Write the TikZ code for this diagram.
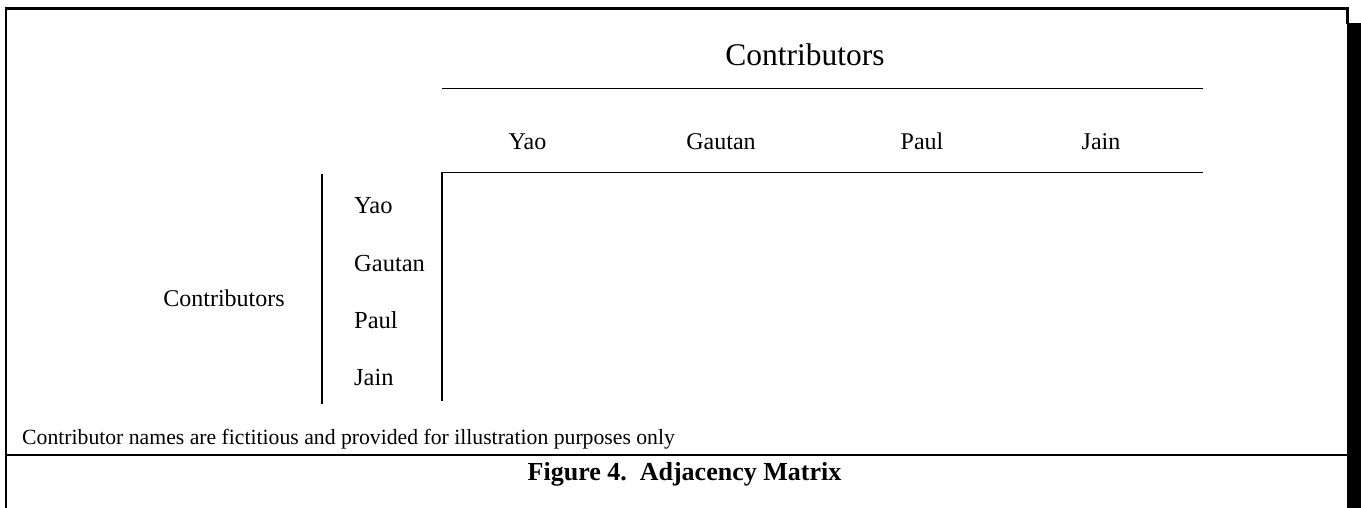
\documentclass[tikz,border=0pt]{standalone}
\usepackage{fontspec}
\setmainfont{Liberation Serif}
\begin{document}
\begin{tikzpicture}[x=1pt,y=-1pt,
  frame/.style={line width=2.5pt,line cap=rect},
  rule/.style={line width=1.9pt},
  big/.style={font=\fontsize{31.5}{32}\selectfont,inner sep=0pt,anchor=base},
  head/.style={font=\fontsize{24}{24}\selectfont,inner sep=0pt,anchor=base},
  rowlab/.style={font=\fontsize{24.5}{24}\selectfont,inner sep=0pt,anchor=base west},
  note/.style={font=\fontsize{21.7}{22}\selectfont,inner sep=0pt,anchor=base west},
  captext/.style={font=\fontsize{26}{26}\selectfont\bfseries,inner sep=0pt,anchor=base}]
\useasboundingbox (0,0) rectangle (1361,508);
% frame
\coordinate (fbl) at (6,508);
\coordinate (ftl) at (6,8.5);
\coordinate (ftr) at (1347.5,8.5);
\coordinate (frs) at (1347.5,23);
\draw[frame] (fbl) -- (ftl) -- (ftr) -- (frs);
\fill (1346.5,23) rectangle (1361,508);
\coordinate (bl) at (6,455);
\coordinate (br) at (1347,455);
\draw[frame,line cap=butt] (bl) -- (br);
% titles
\node[big] (ctop) at (805,66) {Contributors};
\node[head] (cleft) at (224,306) {Contributors};
% column headers
\node[head] (c1) at (527.5,149.5) {Yao};
\node[head] (c2) at (721,149.5) {Gautan};
\node[head] (c3) at (922,149.5) {Paul};
\node[head] (c4) at (1101,149.5) {Jain};
% row labels
\node[rowlab] (r1) at (354,213.5) {Yao};
\node[rowlab] (r2) at (354,271.5) {Gautan};
\node[rowlab] (r3) at (354,328.5) {Paul};
\node[rowlab] (r4) at (354,385.5) {Jain};
% rules
\coordinate (t1) at (442,88.5);
\coordinate (t2) at (1203,88.5);
\draw[rule] (t1) -- (t2);
\coordinate (m0) at (442,401);
\coordinate (m1) at (442,172.5);
\coordinate (m2) at (1203,172.5);
\draw[rule] (m0) -- (m1) -- (m2);
\coordinate (l1) at (322,174);
\coordinate (l2) at (322,404);
\draw[rule] (l1) -- (l2);
% notes
\node[note] (fn) at (22,444) {Contributor names are fictitious and provided for illustration purposes only};
\node[captext] (caption) at (684.5,480) {Figure 4.\ \ Adjacency Matrix};
\end{tikzpicture}
\end{document}
